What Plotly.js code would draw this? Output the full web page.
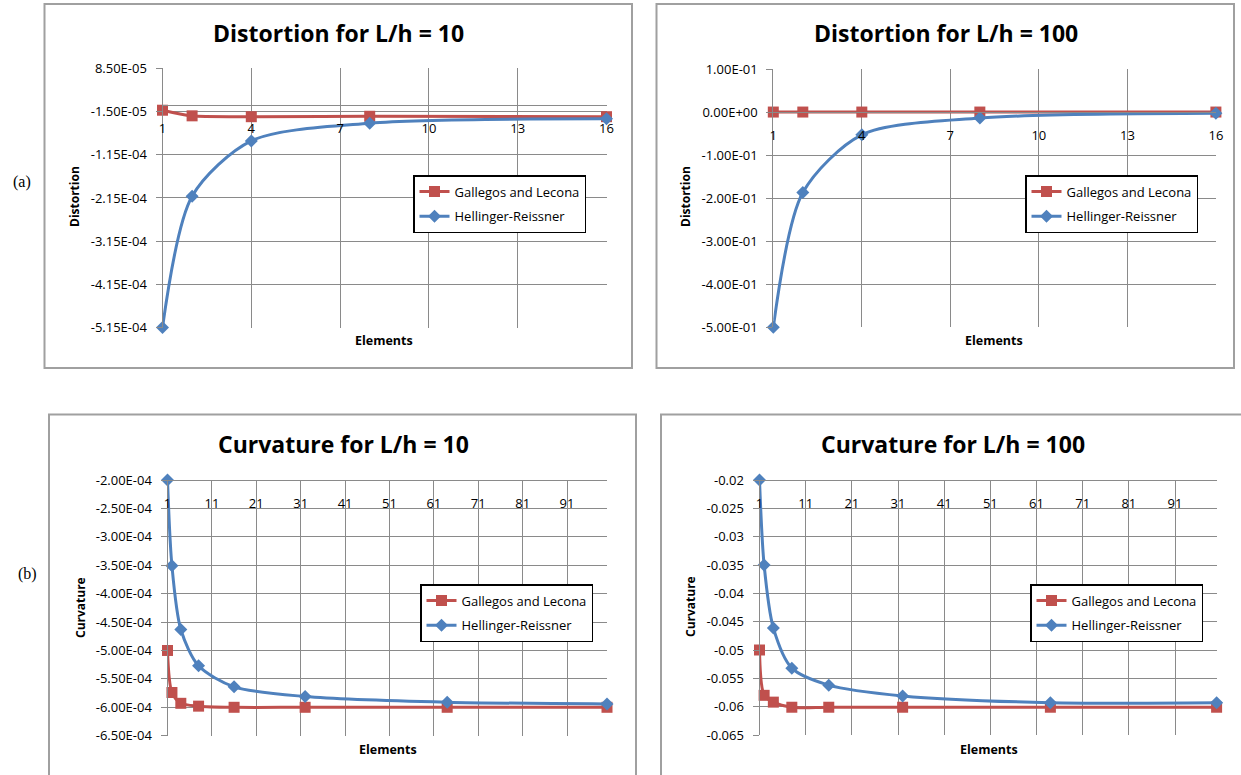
<!DOCTYPE html>
<html><head><meta charset="utf-8">
<script src="https://cdn.plot.ly/plotly-3.0.1.min.js"></script>
<style>html,body{margin:0;padding:0;background:#fff;}#chart{width:1241px;height:775px;}</style>
</head><body><div id="chart"></div>
<script>
// ---- data ----
const elementsDist = [1, 2, 4, 8, 16];
const elementsCurv = [1, 2, 4, 8, 16, 32, 64, 100];
const seriesNames = ['Gallegos and Lecona', 'Hellinger-Reissner'];

const distL10_gallegos   = [-1.2e-5, -2.5e-5, -2.7e-5, -2.6e-5, -2.7e-5];
const distL10_hellinger  = [-5.15e-4, -2.11e-4, -8.3e-5, -4.2e-5, -3.2e-5];
const distL100_gallegos  = [0, 0, 0, 0, 0];
const distL100_hellinger = [-0.5, -0.187, -0.053, -0.014, -0.003];
const curvL10_gallegos   = [-5.0e-4, -5.74e-4, -5.93e-4, -5.98e-4, -6.0e-4, -6.0e-4, -6.0e-4, -6.0e-4];
const curvL10_hellinger  = [-2.0e-4, -3.51e-4, -4.63e-4, -5.27e-4, -5.64e-4, -5.81e-4, -5.91e-4, -5.94e-4];
const curvL100_gallegos  = [-0.05, -0.058, -0.0592, -0.0601, -0.0601, -0.0601, -0.0601, -0.0601];
const curvL100_hellinger = [-0.02, -0.035, -0.0461, -0.0532, -0.0562, -0.0581, -0.0593, -0.0593];

const xTicksDist = [1, 4, 7, 10, 13, 16];
const xTickTextDist = ['1', '4', '7', '10', '13', '16'];
const xTicksCurv = [1, 11, 21, 31, 41, 51, 61, 71, 81, 91];
const xTickTextCurv = ['1', '11', '21', '31', '41', '51', '61', '71', '81', '91'];

const yTicksDistL10 = [8.5e-5, -1.5e-5, -1.15e-4, -2.15e-4, -3.15e-4, -4.15e-4, -5.15e-4];
const yTextDistL10 = ['8.50E-05', '-1.50E-05', '-1.15E-04', '-2.15E-04', '-3.15E-04', '-4.15E-04', '-5.15E-04'];
const yTicksDistL100 = [0.1, 0, -0.1, -0.2, -0.3, -0.4, -0.5];
const yTextDistL100 = ['1.00E-01', '0.00E+00', '-1.00E-01', '-2.00E-01', '-3.00E-01', '-4.00E-01', '-5.00E-01'];
const yTicksCurvL10 = [-2.0e-4, -2.5e-4, -3.0e-4, -3.5e-4, -4.0e-4, -4.5e-4, -5.0e-4, -5.5e-4, -6.0e-4, -6.5e-4];
const yTextCurvL10 = ['-2.00E-04', '-2.50E-04', '-3.00E-04', '-3.50E-04', '-4.00E-04', '-4.50E-04', '-5.00E-04', '-5.50E-04', '-6.00E-04', '-6.50E-04'];
const yTicksCurvL100 = [-0.02, -0.025, -0.03, -0.035, -0.04, -0.045, -0.05, -0.055, -0.06, -0.065];
const yTextCurvL100 = ['-0.02', '-0.025', '-0.03', '-0.035', '-0.04', '-0.045', '-0.05', '-0.055', '-0.06', '-0.065'];

const titles = ['Distortion for L/h = 10', 'Distortion for L/h = 100', 'Curvature for L/h = 10', 'Curvature for L/h = 100'];

// ---- layout helpers ----
const W = 1241, H = 775;
const FONT = 'Open Sans, Lato, sans-serif';
const RED = '#C0504D', BLUE = '#4F81BD', GRID = '#8a8a8a';
const px = v => v / W;
const py = v => 1 - v / H;

const panels = [
  {x: [162.5, 606.5], y: [68.3, 327.6], yr: [-5.15e-4, 8.5e-5], xr: [1, 16], cross: 0,
   xt: xTicksDist, xtt: xTickTextDist, yt: yTicksDistL10, ytt: yTextDistL10,
   xs: elementsDist, g: distL10_gallegos, h: distL10_hellinger,
   box: [44.5, 4, 632, 368], title: [338, 33], ytitle: ['Distortion', 75, 197], xtitle: [384, 340],
   legend: [413, 175]},
  {x: [773.3, 1215.9], y: [69, 327.3], yr: [-0.5, 0.1], xr: [1, 16], cross: 0,
   xt: xTicksDist, xtt: xTickTextDist, yt: yTicksDistL100, ytt: yTextDistL100,
   xs: elementsDist, g: distL100_gallegos, h: distL100_hellinger,
   box: [656.5, 4, 1234, 368], title: [946, 33], ytitle: ['Distortion', 686, 197], xtitle: [994, 340],
   legend: [1025, 175]},
  {x: [167.5, 607], y: [480, 735.7], yr: [-6.5e-4, -2.0e-4], xr: [1, 100], cross: -2.0e-4,
   xt: xTicksCurv, xtt: xTickTextCurv, yt: yTicksCurvL10, ytt: yTextCurvL10,
   xs: elementsCurv, g: curvL10_gallegos, h: curvL10_hellinger,
   box: [49, 414.5, 636, 790], title: [343, 444], ytitle: ['Curvature', 80, 607], xtitle: [388, 749],
   legend: [420, 584]},
  {x: [759.5, 1216.6], y: [480, 735], yr: [-0.065, -0.02], xr: [1, 100], cross: -0.02,
   xt: xTicksCurv, xtt: xTickTextCurv, yt: yTicksCurvL100, ytt: yTextCurvL100,
   xs: elementsCurv, g: curvL100_gallegos, h: curvL100_hellinger,
   box: [661, 414.5, 1260, 790], title: [953, 444], ytitle: ['Curvature', 690, 607], xtitle: [989, 749],
   legend: [1030, 584]}
];

const data = [];
const layout = {
  width: W, height: H, margin: {l: 0, r: 0, t: 0, b: 0},
  paper_bgcolor: '#fff', plot_bgcolor: '#fff',
  font: {family: FONT, color: '#000'},
  shapes: [], annotations: [], showlegend: true
};

panels.forEach((p, i) => {
  const n = i + 1;
  const sfx = n === 1 ? '' : String(n);
  const xa = 'x' + sfx, ya = 'y' + sfx;
  const leg = 'legend' + sfx;
  const yDom = [py(p.y[1]), py(p.y[0])];
  const pos = yDom[0] + (p.cross - p.yr[0]) / (p.yr[1] - p.yr[0]) * (yDom[1] - yDom[0]);

  layout['xaxis' + sfx] = {
    domain: [px(p.x[0]), px(p.x[1])], range: p.xr, anchor: 'free', position: pos,
    tickmode: 'array', tickvals: p.xt, ticktext: p.xtt,
    showgrid: true, gridcolor: GRID, gridwidth: 1, zeroline: false,
    showline: true, linecolor: GRID, linewidth: 1, ticks: '', ticklabelstandoff: 11,
    tickfont: {family: FONT, size: 13, color: '#000'}, fixedrange: true
  };
  layout['yaxis' + sfx] = {
    domain: yDom, range: p.yr, anchor: xa,
    tickmode: 'array', tickvals: p.yt, ticktext: p.ytt,
    showgrid: true, gridcolor: GRID, gridwidth: 1, zeroline: false,
    showline: true, linecolor: GRID, linewidth: 1,
    ticks: 'outside', ticklen: 6, tickcolor: GRID, ticklabelstandoff: 6,
    tickfont: {family: FONT, size: 13, color: '#000'}, fixedrange: true
  };
  layout[leg] = {
    x: px(p.legend[0]), y: py(p.legend[1]), xanchor: 'left', yanchor: 'top',
    bgcolor: '#fff', bordercolor: '#000', borderwidth: 1.5,
    font: {family: FONT, size: 13, color: '#000'},
    traceorder: 'grouped', tracegroupgap: 5, itemwidth: 30
  };

  data.push({
    x: p.xs, y: p.g, xaxis: xa, yaxis: ya, type: 'scatter', mode: 'lines+markers',
    name: seriesNames[0], legend: leg, legendgroup: 'g' + n, cliponaxis: false,
    line: {color: RED, width: 3, shape: 'spline', smoothing: 0.8},
    marker: {symbol: 'square', size: 11, color: RED}
  });
  data.push({
    x: p.xs, y: p.h, xaxis: xa, yaxis: ya, type: 'scatter', mode: 'lines+markers',
    name: seriesNames[1], legend: leg, legendgroup: 'h' + n, cliponaxis: false,
    line: {color: BLUE, width: 3, shape: 'spline', smoothing: 0.8},
    marker: {symbol: 'diamond', size: 10, color: BLUE}
  });

  layout.shapes.push({
    type: 'rect', xref: 'paper', yref: 'paper', layer: 'below',
    x0: px(p.box[0]), x1: px(p.box[2]), y0: py(p.box[3]), y1: py(p.box[1]),
    line: {color: '#a0a0a0', width: 2}, fillcolor: 'rgba(0,0,0,0)'
  });
  layout.annotations.push({
    text: '<b>' + titles[i] + '</b>', xref: 'paper', yref: 'paper',
    x: px(p.title[0]), y: py(p.title[1]), xanchor: 'center', yanchor: 'middle',
    showarrow: false, font: {family: FONT, size: 23, color: '#000'}
  });
  layout.annotations.push({
    text: '<b>' + p.ytitle[0] + '</b>', xref: 'paper', yref: 'paper', textangle: -90,
    x: px(p.ytitle[1]), y: py(p.ytitle[2]), xanchor: 'center', yanchor: 'middle',
    showarrow: false, font: {family: FONT, size: 12, color: '#000'}
  });
  layout.annotations.push({
    text: '<b>Elements</b>', xref: 'paper', yref: 'paper',
    x: px(p.xtitle[0]), y: py(p.xtitle[1]), xanchor: 'center', yanchor: 'middle',
    showarrow: false, font: {family: FONT, size: 12.5, color: '#000'}
  });
});

layout.annotations.push({
  text: '(a)', xref: 'paper', yref: 'paper', x: px(22), y: py(182),
  xanchor: 'center', yanchor: 'middle', showarrow: false,
  font: {family: 'Liberation Serif, serif', size: 16, color: '#000'}
});
layout.annotations.push({
  text: '(b)', xref: 'paper', yref: 'paper', x: px(27), y: py(574),
  xanchor: 'center', yanchor: 'middle', showarrow: false,
  font: {family: 'Liberation Serif, serif', size: 16, color: '#000'}
});

Plotly.newPlot('chart', data, layout, {displayModeBar: false, staticPlot: true});
</script>
</body></html>
